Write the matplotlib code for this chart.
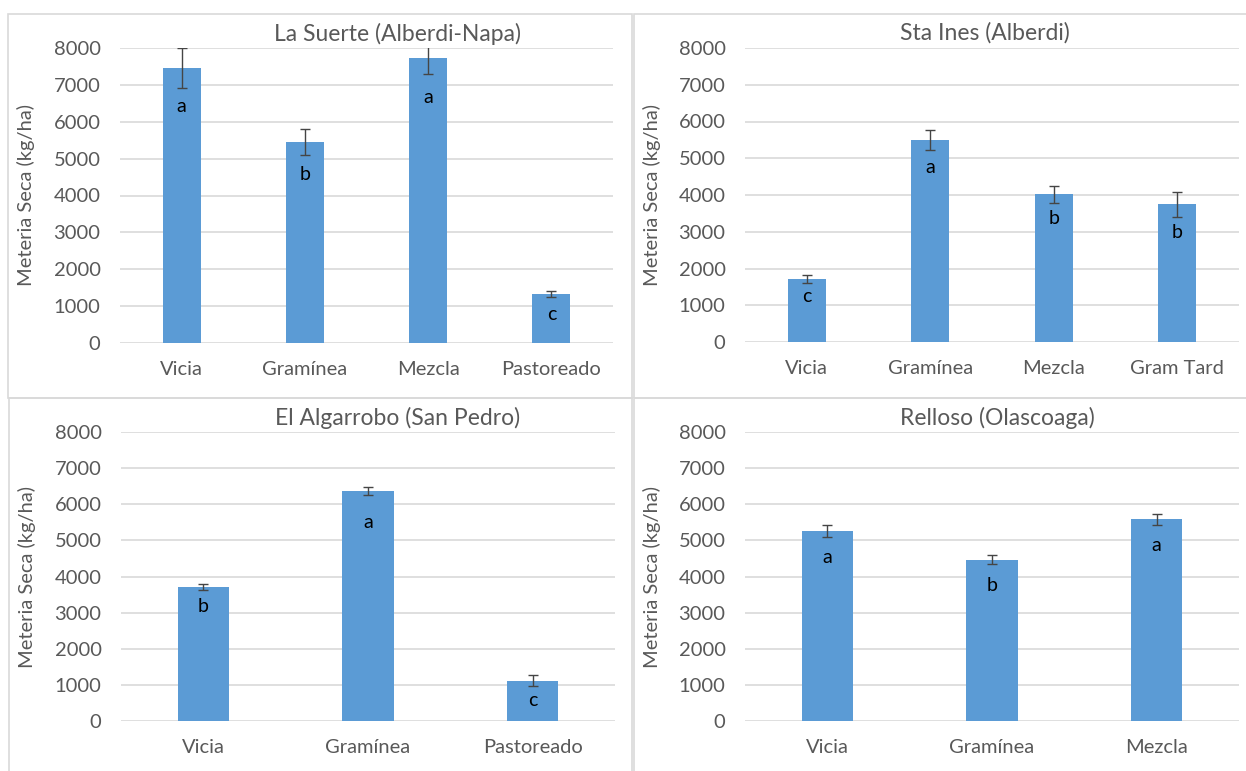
import matplotlib
matplotlib.use("Agg")
import matplotlib.pyplot as plt
from matplotlib.patches import Rectangle

plt.rcParams['font.family'] = ['Lato', 'DejaVu Sans']

W, H = 1246, 771
BAR = "#5B9BD5"
GRID = "#D9D9D9"
TXT = "#595959"
ERR = "#454545"

# ---- data ----
t1 = "La Suerte (Alberdi-Napa)"
cats1 = ["Vicia", "Gramínea", "Mezcla", "Pastoreado"]
vals1 = [7450, 5460, 7720, 1340]
errs1 = [540, 350, 430, 80]
lets1 = ["a", "b", "a", "c"]

t2 = "Sta Ines (Alberdi)"
cats2 = ["Vicia", "Gramínea", "Mezcla", "Gram Tard"]
vals2 = [1720, 5500, 4020, 3750]
errs2 = [110, 280, 230, 340]
lets2 = ["c", "a", "b", "b"]

t3 = "El Algarrobo (San Pedro)"
cats3 = ["Vicia", "Gramínea", "Pastoreado"]
vals3 = [3720, 6360, 1120]
errs3 = [85, 110, 150]
lets3 = ["b", "a", "c"]

t4 = "Relloso (Olascoaga)"
cats4 = ["Vicia", "Gramínea", "Mezcla"]
vals4 = [5250, 4460, 5580]
errs4 = [165, 125, 160]
lets4 = ["a", "b", "a"]

# layout (pixels): plot box, panel frame, title centre, letter drop below bar top
panels = [
    (t1, cats1, vals1, errs1, lets1, (120, 48, 613, 343), (8, 14, 632, 398), (398, 34), [38, 33, 39, 21]),
    (t2, cats2, vals2, errs2, lets2, (745, 48, 1239, 342), (634, 14, 1252, 398), (985, 33), [18, 28, 24, 28]),
    (t3, cats3, vals3, errs3, lets3, (121, 432, 615, 721), (9, 398, 632, 780), (398, 418), [20, 31, 20]),
    (t4, cats4, vals4, errs4, lets4, (745, 432, 1239, 721), (634, 398, 1252, 780), (997, 418), [26, 26, 26]),
]

fig = plt.figure(figsize=(W / 100, H / 100), dpi=100)

for title, cats, vals, errs, lets, box, frame, tpos, drops in panels:
    fx0, fy0, fx1, fy1 = frame
    fig.patches.append(Rectangle((fx0 / W, 1 - fy1 / H), (fx1 - fx0) / W, (fy1 - fy0) / H,
                                 transform=fig.transFigure, fill=False, ec=GRID, lw=1.2, zorder=0))
    x0, y0, x1, y1 = box
    ax = fig.add_axes([x0 / W, 1 - y1 / H, (x1 - x0) / W, (y1 - y0) / H])
    pos = list(range(len(cats)))
    ax.bar(pos, vals, width=0.31, color=BAR, zorder=2)
    ax.errorbar(pos, vals, yerr=errs, fmt="none", ecolor=ERR, elinewidth=1.0,
                capsize=3.5, capthick=1.0, zorder=3)
    ax.set_xlim(-0.5, len(cats) - 0.5)
    ax.set_ylim(0, 8000)
    ax.set_yticks(range(0, 8001, 1000))
    ax.grid(axis="y", color=GRID, lw=1.2, zorder=0)
    ax.set_axisbelow(True)
    for s in ax.spines.values():
        s.set_visible(False)
    ax.set_xticks(pos)
    ax.set_xticklabels(cats)
    ax.tick_params(length=0, labelsize=14.5, colors=TXT)
    ax.tick_params(axis="x", pad=13)
    ax.tick_params(axis="y", pad=14)
    ax.set_ylabel("Meteria Seca (kg/ha)", fontsize=14.5, color=TXT)
    ax.yaxis.set_label_coords((fx0 + 18 - x0) / (x1 - x0), 0.5)
    ax.yaxis.label.set_va("center")
    for p, v, l, d in zip(pos, vals, lets, drops):
        ax.annotate(l, (p, v), xytext=(0, -d * 0.72), textcoords="offset points",
                    ha="center", va="center", fontsize=14, color="black", zorder=4)
    fig.text(tpos[0] / W, 1 - tpos[1] / H, title, ha="center", va="center",
             fontsize=16.5, color=TXT)

fig.savefig("out.png", dpi=100, facecolor="white")
